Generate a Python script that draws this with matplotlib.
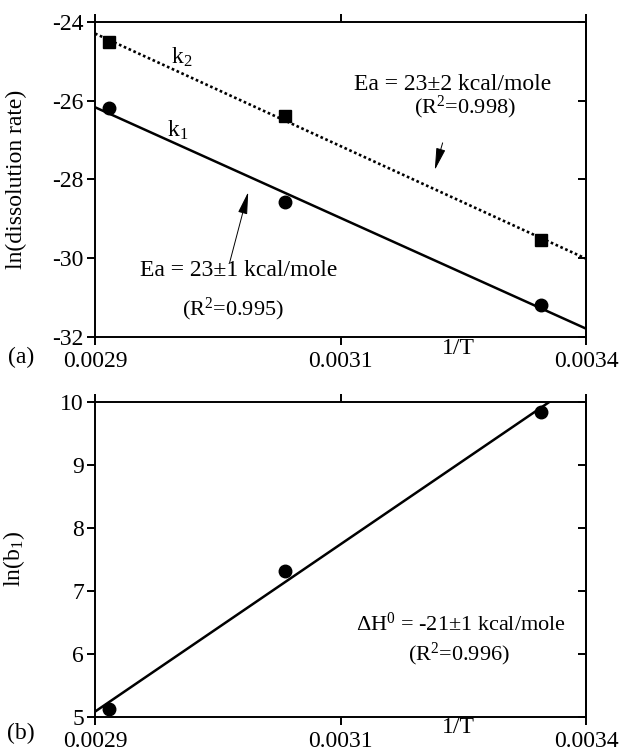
import numpy as np
import matplotlib
matplotlib.use("Agg")
import matplotlib.pyplot as plt

plt.rcParams['font.family'] = ['Liberation Serif', 'DejaVu Serif']
plt.rcParams['mathtext.fontset'] = 'custom'
plt.rcParams['mathtext.rm'] = 'Liberation Serif'
plt.rcParams['mathtext.it'] = 'Liberation Serif:italic'
plt.rcParams['font.size'] = 17
plt.rcParams['axes.unicode_minus'] = False

# inverse temperature of the three runs
inv_T = np.array([0.002914, 0.003093, 0.003354])

# panel (a): ln(dissolution rate)
ln_k1 = np.array([-26.19, -28.56, -31.18])
ln_k2 = np.array([-24.52, -26.39, -29.53])

# panel (b): ln(b1)
ln_b1 = np.array([5.13, 7.32, 9.83])

# x ticks (middle tick is 0.00315 but printed as 0.0031 in the original)
xticks = [0.0029, 0.00315, 0.0034]
xticklabels = ['0.0029', '0.0031', '0.0034']

fig = plt.figure(figsize=(6.19, 7.52), dpi=100)
ax1 = fig.add_axes([0.1535, 0.5519, 0.7932, 0.4189])
ax2 = fig.add_axes([0.1535, 0.0461, 0.7932, 0.4197])

xfit = np.linspace(0.0029, 0.0034, 200)
arrow = dict(arrowstyle='-|>,head_length=0.8,head_width=0.17',
             color='black', lw=0.7, shrinkA=0, shrinkB=0)


def style(ax, yticks):
    ax.set_xlim(0.0029, 0.0034)
    ax.set_xticks(xticks)
    ax.set_xticklabels(xticklabels)
    ax.set_yticks(yticks)
    ax.set_yticklabels([str(v) for v in yticks])
    for s in ax.spines.values():
        s.set_linewidth(1.4)
    ax.tick_params(axis='x', direction='out', top=True, bottom=True,
                   length=6, width=1.4, pad=4)
    ax.tick_params(axis='y', direction='out', left=True, right=False,
                   length=6, width=1.4, pad=2)
    sec = ax.secondary_yaxis('right')
    sec.set_yticks(yticks)
    sec.tick_params(direction='in', length=6, width=1.4, labelright=False)
    sec.spines['right'].set_linewidth(1.4)


# ---- panel (a)
p1 = np.polyfit(inv_T, ln_k1, 1)
p2 = np.polyfit(inv_T, ln_k2, 1)
ax1.plot(xfit, np.polyval(p1, xfit), color='black', lw=1.8)
ax1.plot(xfit, np.polyval(p2, xfit), color='black', lw=1.9,
         linestyle=(0, (1.0, 1.0)))
ax1.plot(inv_T, ln_k1, 'o', color='black', ms=9)
ax1.plot(inv_T, ln_k2, 's', color='black', ms=9)
ax1.set_ylim(-32, -24)
style(ax1, [-32, -30, -28, -26, -24])
ax1.set_ylabel('ln(dissolution rate)')
ax1.yaxis.set_label_coords(-0.138, 0.5)

ax1.text(0.002988, -24.89, r'k$_2$', ha='center', va='center')
ax1.text(0.002984, -26.74, r'k$_1$', ha='center', va='center')
ax1.text(0.003046, -30.32, 'Ea = 23\u00b11 kcal/mole', ha='center', va='center')
ax1.text(0.003040, -31.31, r'(R$^2$=0.995)', ha='center', va='center', size=16)
ax1.annotate('', xy=(0.003056, -28.32), xytext=(0.003037, -30.12),
             arrowprops=arrow)
ax1.text(0.003264, -25.60, 'Ea = 23\u00b12 kcal/mole', ha='center', va='center')
ax1.text(0.003277, -26.18, r'(R$^2$=0.998)', ha='center', va='center', size=16)
ax1.annotate('', xy=(0.003246, -27.76), xytext=(0.003254, -27.07),
             arrowprops=arrow)

# ---- panel (b)
pb = np.polyfit(inv_T, ln_b1, 1)
ax2.plot(xfit, np.polyval(pb, xfit), color='black', lw=1.8)
ax2.plot(inv_T, ln_b1, 'o', color='black', ms=9)
ax2.set_ylim(5, 10)
style(ax2, [5, 6, 7, 8, 9, 10])
ax2.set_ylabel(r'ln(b$_1$)')
ax2.yaxis.set_label_coords(-0.138, 0.5)
ax2.text(0.003273, 6.48, '\u0394H$^0$ = -21\u00b11 kcal/mole', ha='center', va='center',
         size=16)
ax2.text(0.003271, 5.99, r'(R$^2$=0.996)', ha='center', va='center', size=16)

fig.text(0.034, 0.525, '(a)', ha='center', va='center')
fig.text(0.034, 0.025, '(b)', ha='center', va='center')
fig.text(0.740, 0.537, '1/T', ha='center', va='center')
fig.text(0.740, 0.033, '1/T', ha='center', va='center')

fig.savefig('out.png', dpi=100)
